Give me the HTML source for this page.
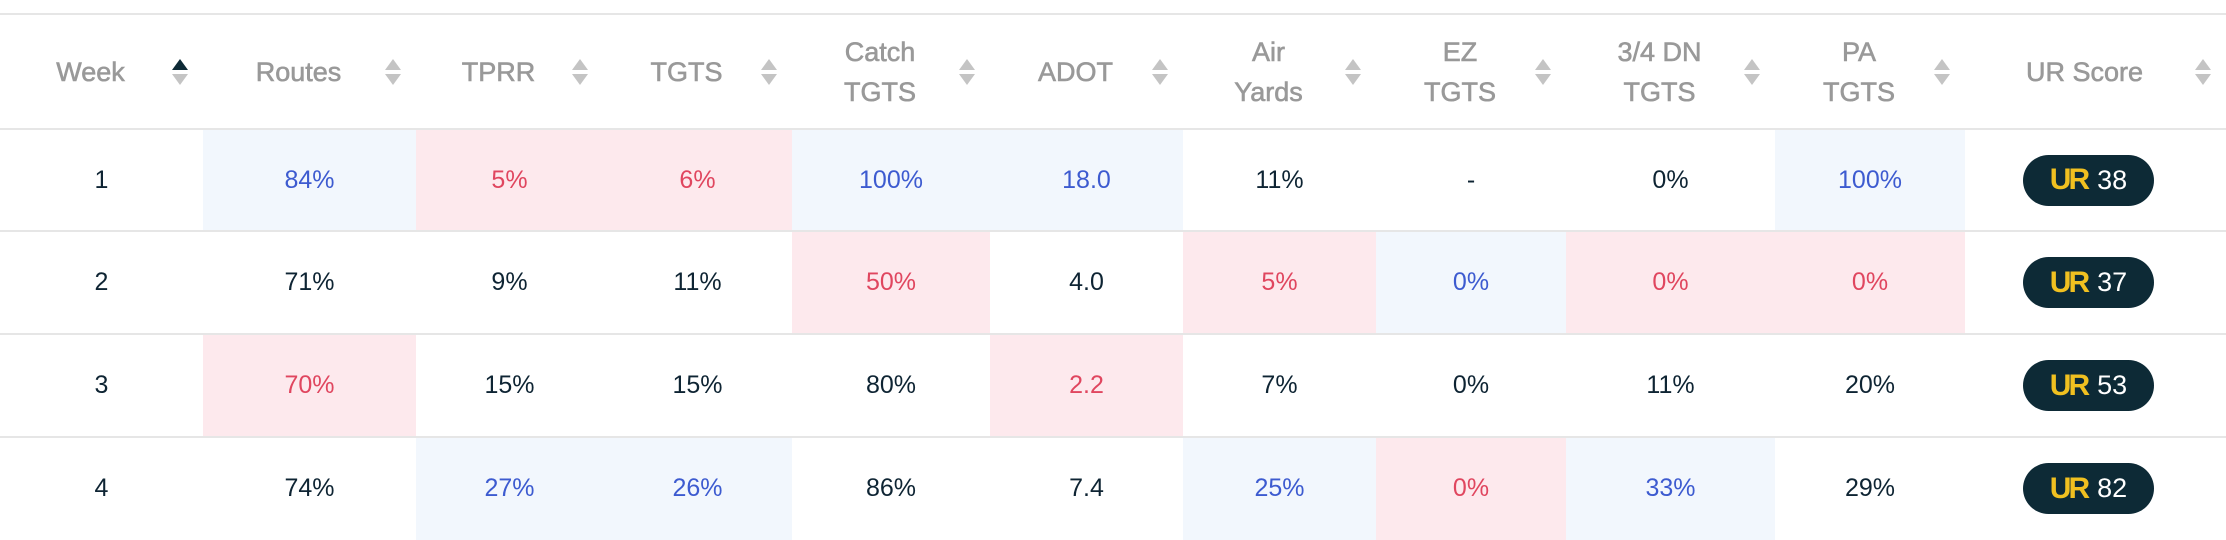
<!DOCTYPE html>
<html><head><meta charset="utf-8"><style>
body{margin:0;width:2226px;height:540px;overflow:hidden;background:#fff;font-family:"Liberation Sans",sans-serif;}
#t{position:relative;width:2226px;height:540px;}
.hl{position:absolute;left:0;width:2226px;height:2px;background:#e6e6e6;}
.cell{position:absolute;display:flex;align-items:center;justify-content:center;font-size:25px;color:#0e2433;box-sizing:border-box;}
.hd{position:absolute;display:flex;align-items:center;justify-content:center;font-size:27px;color:#999;-webkit-text-stroke:0.6px #999;line-height:40px;text-align:center;box-sizing:border-box;padding-right:22px;}
.sort{position:absolute;top:50%;margin-top:-14px;width:18px;height:28px;}
.b{background:#f2f7fd;color:#3d5bd0}
.r{background:#fde9ed;color:#e0465f}
.badge{width:131px;height:51px;border-radius:26px;background:#0d2a36;display:flex;align-items:center;justify-content:center;color:#fff;font-size:27px;}
.ur{color:#f0c020;font-weight:bold;font-size:30px;letter-spacing:-3px;margin-right:10px;}
</style></head><body>
<div id="t"></div>
<script>
const cols=["Week","Routes","TPRR","TGTS","Catch<br>TGTS","ADOT","Air<br>Yards","EZ<br>TGTS","3/4 DN<br>TGTS","PA<br>TGTS","UR Score"];
const names=["week","routes","tprr","tgts","catch-tgts","adot","air-yards","ez-tgts","3-4-dn-tgts","pa-tgts","ur-score"];
const edges=[0,203,416,603,792,990,1183,1376,1566,1775,1965,2226];
const rows=[
["1","84%","5%","6%","100%","18.0","11%","-","0%","100%","38"],
["2","71%","9%","11%","50%","4.0","5%","0%","0%","0%","37"],
["3","70%","15%","15%","80%","2.2","7%","0%","11%","20%","53"],
["4","74%","27%","26%","86%","7.4","25%","0%","33%","29%","82"]];
const sh=[
["","b","r","r","b","b","","","","b",""],
["","","","","r","","r","b","r","r",""],
["","r","","","","r","","","","",""],
["","","b","b","","","b","r","b","",""]];
const rowTop=[129,231,334,437,540];
const t=document.getElementById('t');
function line(y){const d=document.createElement('div');d.className='hl';d.style.top=(y-1)+'px';

t.appendChild(d);}
cols.forEach((c,i)=>{const h=document.createElement('div');h.className='hd';
h.style.left=edges[i]+'px';h.style.width=(edges[i+1]-edges[i])+'px';h.style.top='14px';h.style.height='115px';
h.innerHTML='<span>'+c+'</span>';


const s=document.createElementNS('http://www.w3.org/2000/svg','svg');s.setAttribute('class','sort');s.setAttribute('viewBox','0 0 18 28');
s.style.right='14px';
const up=i==0?'#0d2a36':'#c4c4c4';
s.innerHTML='<polygon points="9,1 17,12 1,12" fill="'+up+'"/><polygon points="1,16 17,16 9,27" fill="#c4c4c4"/>';


h.appendChild(s);t.appendChild(h);});
rows.forEach((r,ri)=>{r.forEach((v,ci)=>{const d=document.createElement('div');d.className='cell '+sh[ri][ci];
d.style.left=edges[ci]+'px';d.style.width=(edges[ci+1]-edges[ci])+'px';d.style.top=rowTop[ri]+'px';d.style.height=(rowTop[ri+1]-rowTop[ri])+'px';
if(ci==10){d.innerHTML='<div class="badge" style="margin-left:-14px"><span class="ur">UR</span>'+v+'</div>';}
else d.textContent=v;


t.appendChild(d);});});
[14,129,231,334,437].forEach(line);
</script>
</body></html>
